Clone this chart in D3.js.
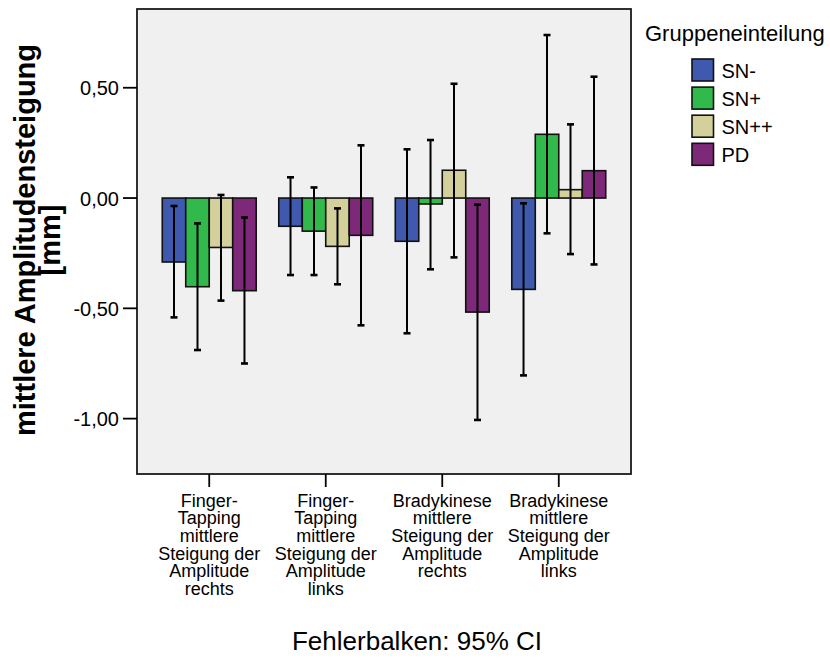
<!DOCTYPE html>
<html>
<head>
<meta charset="utf-8">
<script src="https://cdn.jsdelivr.net/npm/d3@7"></script>
<style>
  html, body { margin: 0; padding: 0; background: #ffffff; }
  svg text { font-family: "Liberation Sans", Arial, sans-serif; fill: #000; }
</style>
</head>
<body>
<svg id="chart" width="830" height="666"></svg>
<script>
// Categories along the x axis (each label is wrapped into lines)
const categories = ["FT_re", "FT_li", "BK_re", "BK_li"];
const categoryLines = [
  ["Finger-", "Tapping", "mittlere", "Steigung der", "Amplitude", "rechts"],
  ["Finger-", "Tapping", "mittlere", "Steigung der", "Amplitude", "links"],
  ["Bradykinese", "mittlere", "Steigung der", "Amplitude", "rechts"],
  ["Bradykinese", "mittlere", "Steigung der", "Amplitude", "links"]
];

// Groups (legend entries)
const groups = ["SN-", "SN+", "SN++", "PD"];
const groupColors = ["#3e59ad", "#31b94b", "#d4d09b", "#7d2879"];

// Mean slope per group, one value per category
const meanSNminus = [-0.290, -0.128, -0.196, -0.414];
const meanSNplus  = [-0.402, -0.150, -0.027,  0.289];
const meanSNpp    = [-0.224, -0.219,  0.126,  0.038];
const meanPD      = [-0.420, -0.169, -0.517,  0.124];

// 95% CI bounds per group
const loSNminus = [-0.541, -0.349, -0.613, -0.804];
const hiSNminus = [-0.036,  0.094,  0.221, -0.024];
const loSNplus  = [-0.689, -0.349, -0.323, -0.160];
const hiSNplus  = [-0.115,  0.048,  0.263,  0.739];
const loSNpp    = [-0.465, -0.391, -0.269, -0.254];
const hiSNpp    = [ 0.014, -0.047,  0.518,  0.334];
const loPD      = [-0.750, -0.577, -1.006, -0.301];
const hiPD      = [-0.088,  0.239, -0.030,  0.550];

// Y axis ticks
const yTicks = [0.5, 0.0, -0.5, -1.0];
const yTickLabels = ["0,50", "0,00", "-0,50", "-1,00"];

const yTitle = ["mittlere Amplitudensteigung", "[mm]"];
const legendTitle = "Gruppeneinteilung";
const footnote = "Fehlerbalken: 95% CI";

const means = [meanSNminus, meanSNplus, meanSNpp, meanPD];
const lows = [loSNminus, loSNplus, loSNpp, loPD];
const highs = [hiSNminus, hiSNplus, hiSNpp, hiPD];

const rows = [];
groups.forEach((g, gi) => {
  categories.forEach((c, ci) => {
    rows.push({ cat: c, group: g, gi, mean: means[gi][ci], lo: lows[gi][ci], hi: highs[gi][ci] });
  });
});

// Layout
const plot = { left: 137, right: 631, top: 9, bottom: 474 };
const svg = d3.select("#chart");

const y = d3.scaleLinear().domain([-1.251, 0.857]).range([plot.bottom, plot.top]);
const x0 = d3.scaleBand().domain(categories).range([plot.left, plot.right]).paddingInner(0).paddingOuter(0.12);
const x1 = d3.scaleBand().domain(groups).range([0, x0.bandwidth()]).paddingInner(0).paddingOuter(0.48);
const color = d3.scaleOrdinal().domain(groups).range(groupColors);

function label(parent, x, yPos, str, size, anchor, weight) {
  return parent.append("text")
    .attr("x", x).attr("y", yPos)
    .attr("text-anchor", anchor || "start")
    .attr("font-size", size)
    .attr("font-weight", weight || "normal")
    .text(str);
}

// Plot background
svg.append("rect")
  .attr("x", plot.left).attr("y", plot.top)
  .attr("width", plot.right - plot.left).attr("height", plot.bottom - plot.top)
  .attr("fill", "#f0f0f0");

// Bars
const bars = svg.append("g");
bars.selectAll("rect").data(rows).join("rect")
  .attr("x", d => x0(d.cat) + x1(d.group))
  .attr("width", x1.bandwidth())
  .attr("y", d => y(Math.max(0, d.mean)))
  .attr("height", d => Math.abs(y(d.mean) - y(0)))
  .attr("fill", d => color(d.group))
  .attr("stroke", "#111")
  .attr("stroke-width", 1.6);

// Error bars
const err = svg.append("g").attr("stroke", "#000");
rows.forEach(d => {
  const cx = x0(d.cat) + x1(d.group) + x1.bandwidth() / 2;
  err.append("line")
    .attr("x1", cx).attr("x2", cx)
    .attr("y1", y(d.hi)).attr("y2", y(d.lo))
    .attr("stroke-width", 2);
  [d.hi, d.lo].forEach(v => {
    err.append("line")
      .attr("x1", cx - 3.5).attr("x2", cx + 3.5)
      .attr("y1", y(v)).attr("y2", y(v))
      .attr("stroke-width", 2.6);
  });
});

// Frame
svg.append("rect")
  .attr("x", plot.left).attr("y", plot.top)
  .attr("width", plot.right - plot.left).attr("height", plot.bottom - plot.top)
  .attr("fill", "none").attr("stroke", "#1a1a1a").attr("stroke-width", 1.8);

// Y axis ticks and labels
const yAx = svg.append("g");
yTicks.forEach((t, i) => {
  yAx.append("line")
    .attr("x1", plot.left - 14).attr("x2", plot.left)
    .attr("y1", y(t)).attr("y2", y(t))
    .attr("stroke", "#000").attr("stroke-width", 1.8);
  label(yAx, 119, y(t) + 7.5, yTickLabels[i], 20, "end");
});

// X axis ticks and wrapped labels
const xAx = svg.append("g");
categories.forEach((c, i) => {
  const cx = x0(c) + x0.bandwidth() / 2;
  xAx.append("line")
    .attr("x1", cx).attr("x2", cx)
    .attr("y1", plot.bottom).attr("y2", plot.bottom + 13)
    .attr("stroke", "#000").attr("stroke-width", 1.8);
  categoryLines[i].forEach((ln, li) => {
    label(xAx, cx, 506.7 + li * 17.65, ln, 18, "middle");
  });
});

// Y axis title (rotated, two lines)
const yt = svg.append("g").attr("transform", "translate(35,240) rotate(-90)");
label(yt, 0, 0, yTitle[0], 29, "middle", "bold");
label(yt, 0, 25, yTitle[1], 29, "middle", "bold");

// Legend
const lg = svg.append("g");
label(lg, 645, 41, legendTitle, 22, "start");
groups.forEach((g, i) => {
  const top = 59 + i * 28.1;
  lg.append("rect")
    .attr("x", 692).attr("y", top)
    .attr("width", 21.5).attr("height", 22)
    .attr("fill", color(g)).attr("stroke", "#111").attr("stroke-width", 1.6);
  label(lg, 721.5, top + 18.5, g, 20, "start");
});

// Footnote
label(svg, 417, 650, footnote, 26, "middle");
</script>
</body>
</html>
